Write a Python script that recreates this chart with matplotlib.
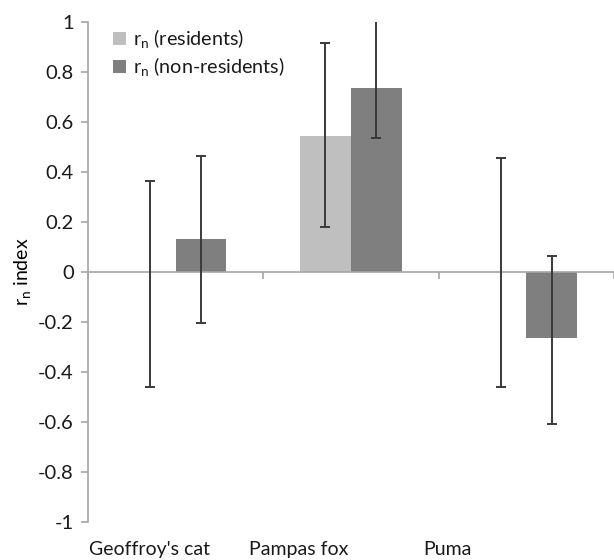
import numpy as np
import matplotlib
matplotlib.use("Agg")
from matplotlib import pyplot as plt

plt.rcParams['font.family'] = ['Lato', 'DejaVu Sans']
plt.rcParams['mathtext.fontset'] = 'custom'
plt.rcParams['mathtext.rm'] = 'Lato'
plt.rcParams['mathtext.it'] = 'Lato'
plt.rcParams['text.color'] = '#1a1a1a'
plt.rcParams['ytick.labelcolor'] = '#1a1a1a'

# Data
species = ["Geoffroy's cat", "Pampas fox", "Puma"]
residents = [0.0, 0.545, 0.0]
res_low = [0.46, 0.365, 0.46]    # distance below the value
res_high = [0.365, 0.37, 0.455]  # distance above the value
non_residents = [0.13, 0.735, -0.265]
non_low = [0.335, 0.2, 0.345]
non_high = [0.335, 0.27, 0.33]

# label positions (axes fraction) as they sit in the reference
label_x = [0.118, 0.401, 0.684]

light = '#bfbfbf'
dark = '#7f7f7f'
err_col = '#3a3a3a'
axis_col = '#a6a6a6'

fig = plt.figure(figsize=(6.14, 5.6), dpi=100)
ax = fig.add_axes([0.143, 0.068, 0.857, 0.893])

x = np.arange(len(species))
w = 0.29

ax.bar(x - w / 2, residents, w, color=light, label=r'r$_\mathrm{n}$ (residents)', zorder=2)
ax.bar(x + w / 2, non_residents, w, color=dark, label=r'r$_\mathrm{n}$ (non-residents)', zorder=2)
ax.errorbar(x - w / 2, residents, yerr=[res_low, res_high], fmt='none',
            ecolor=err_col, elinewidth=1.4, capsize=3.5, capthick=1.4, zorder=3)
ax.errorbar(x + w / 2, non_residents, yerr=[non_low, non_high], fmt='none',
            ecolor=err_col, elinewidth=1.4, capsize=3.5, capthick=1.4, zorder=3)

ax.set_xlim(-0.5, len(species) - 0.5)
ax.set_ylim(-1, 1)
ax.set_yticks(np.arange(-1, 1.01, 0.2))
ax.set_yticklabels(['-1', '-0.8', '-0.6', '-0.4', '-0.2', '0', '0.2', '0.4', '0.6', '0.8', '1'])

# x axis sits on zero, tick marks between categories
ax.spines['bottom'].set_position(('data', 0))
ax.spines['top'].set_visible(False)
ax.spines['right'].set_visible(False)
ax.spines['bottom'].set_color(axis_col)
ax.spines['left'].set_color(axis_col)
ax.spines['bottom'].set_linewidth(1.2)
ax.spines['left'].set_linewidth(1.2)
ax.spines['bottom'].set_zorder(2.5)
ax.set_xticks(np.arange(-0.5, len(species), 1.0))
ax.set_xticklabels([])
ax.tick_params(axis='x', length=5, color=axis_col, width=1.2)
ax.tick_params(axis='y', length=5, color=axis_col, width=1.2, labelsize=14.5, pad=5)

for lx, name in zip(label_x, species):
    ax.text(lx, -0.055, name, transform=ax.transAxes, ha='center', va='center', fontsize=14)

ax.set_ylabel(r'r$_\mathrm{n}$ index', fontsize=14, labelpad=4)

ax.legend(loc='upper left', bbox_to_anchor=(0.015, 1.025), frameon=False, fontsize=14.2,
          handlelength=0.65, handleheight=0.65, handletextpad=0.35, labelspacing=0.25)

fig.savefig('out.png', dpi=100)
